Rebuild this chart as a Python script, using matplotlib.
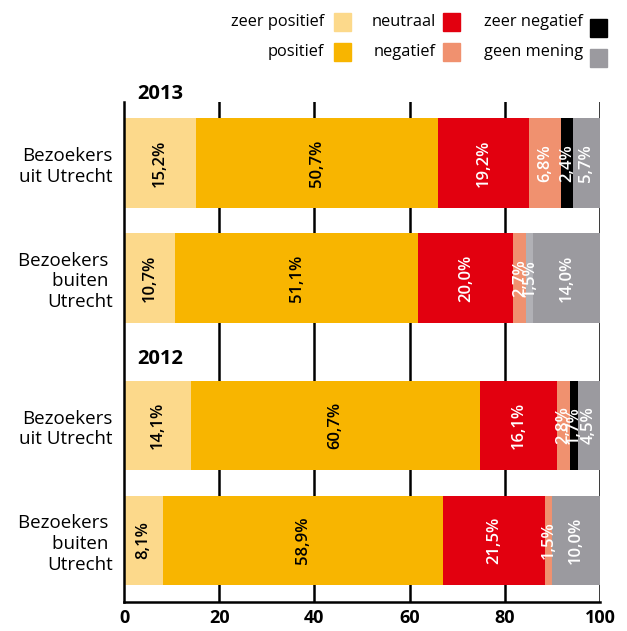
import matplotlib.pyplot as plt
from matplotlib.patches import Rectangle

plt.rcParams['font.family'] = ['Open Sans', 'DejaVu Sans']

groups = ["Bezoekers\nuit Utrecht", "Bezoekers \nbuiten \nUtrecht",
          "Bezoekers\nuit Utrecht", "Bezoekers \nbuiten \nUtrecht"]
years = ["2013", "2012"]
categories = ["zeer positief", "positief", "neutraal", "negatief", "zeer negatief", "geen mening"]

zeer_positief = [15.2, 10.7, 14.1, 8.1]
positief = [50.7, 51.1, 60.7, 58.9]
neutraal = [19.2, 20.0, 16.1, 21.5]
negatief = [6.8, 2.7, 2.8, 1.5]
zeer_negatief = [2.4, 1.5, 1.7, 0.0]
geen_mening = [5.7, 14.0, 4.5, 10.0]

xticks = [0, 20, 40, 60, 80, 100]

colors = ["#FCD98B", "#F8B500", "#E2000F", "#F0916F", "#000000", "#9B9A9F"]
text_colors = ["black", "black", "white", "white", "white", "white"]

series = [zeer_positief, positief, neutraal, negatief, zeer_negatief, geen_mening]
ypos = [0, 1, 2.283, 3.283]

fig = plt.figure(figsize=(6.27, 6.31), dpi=100)
ax = fig.add_axes([0.1978, 0.046, 0.7592, 0.792])

for x in xticks[1:]:
    ax.axvline(x, color="black", lw=1.8, zorder=0)

left = [0, 0, 0, 0]
for i, vals in enumerate(series):
    for j, v in enumerate(vals):
        c = colors[i]
        # 2013 buiten Utrecht: zeer negatief shown in light grey
        if i == 4 and j == 1:
            c = "#B1B1B6"
        ax.barh(ypos[j], v, left=left[j], height=0.78, color=c, zorder=2)
        if v > 0:
            ax.text(left[j] + v / 2, ypos[j], f"{v:.1f}%".replace(".", ","),
                    rotation=90, ha="center", va="center", fontsize=12,
                    fontweight="semibold", color=text_colors[i], zorder=3)
        left[j] += v

ax.set_xlim(0, 100)
ax.set_ylim(3.818, -0.53)
ax.set_xticks(xticks)
ax.set_xticklabels([str(x) for x in xticks], fontsize=13, fontweight="bold")
ax.set_yticks(ypos)
ax.set_yticklabels(groups, fontsize=13.5, ha="right")
ax.tick_params(axis="both", length=0)
ax.tick_params(axis="y", pad=8)
ax.tick_params(axis="x", pad=5)

for s in ["top", "right"]:
    ax.spines[s].set_visible(False)
for s in ["left", "bottom"]:
    ax.spines[s].set_linewidth(1.8)
    ax.spines[s].set_zorder(4)

ax.text(2.7, -0.6, years[0], fontsize=14.5, fontweight="bold", va="center", clip_on=False)
ax.text(2.7, 1.705, years[1], fontsize=14.5, fontweight="bold", va="center")

# legend drawn by hand, three columns
leg = [(0, 324, 334, 22), (1, 324, 334, 52), (2, 436, 443, 22),
       (3, 436, 443, 52), (4, 583, 590, 22), (5, 583, 590, 52)]
W, H = 627.0, 631.0
for i, tx, px, ty in leg:
    fig.text(tx / W, 1 - ty / H, categories[i], ha="right", va="center", fontsize=11.8)
    py = ty + 6 if i >= 4 else ty
    fig.patches.append(Rectangle((px / W, 1 - (py + 8.5) / H), 17 / W, 17 / H,
                                 color=colors[i], transform=fig.transFigure))

plt.savefig("out.png", dpi=100)
